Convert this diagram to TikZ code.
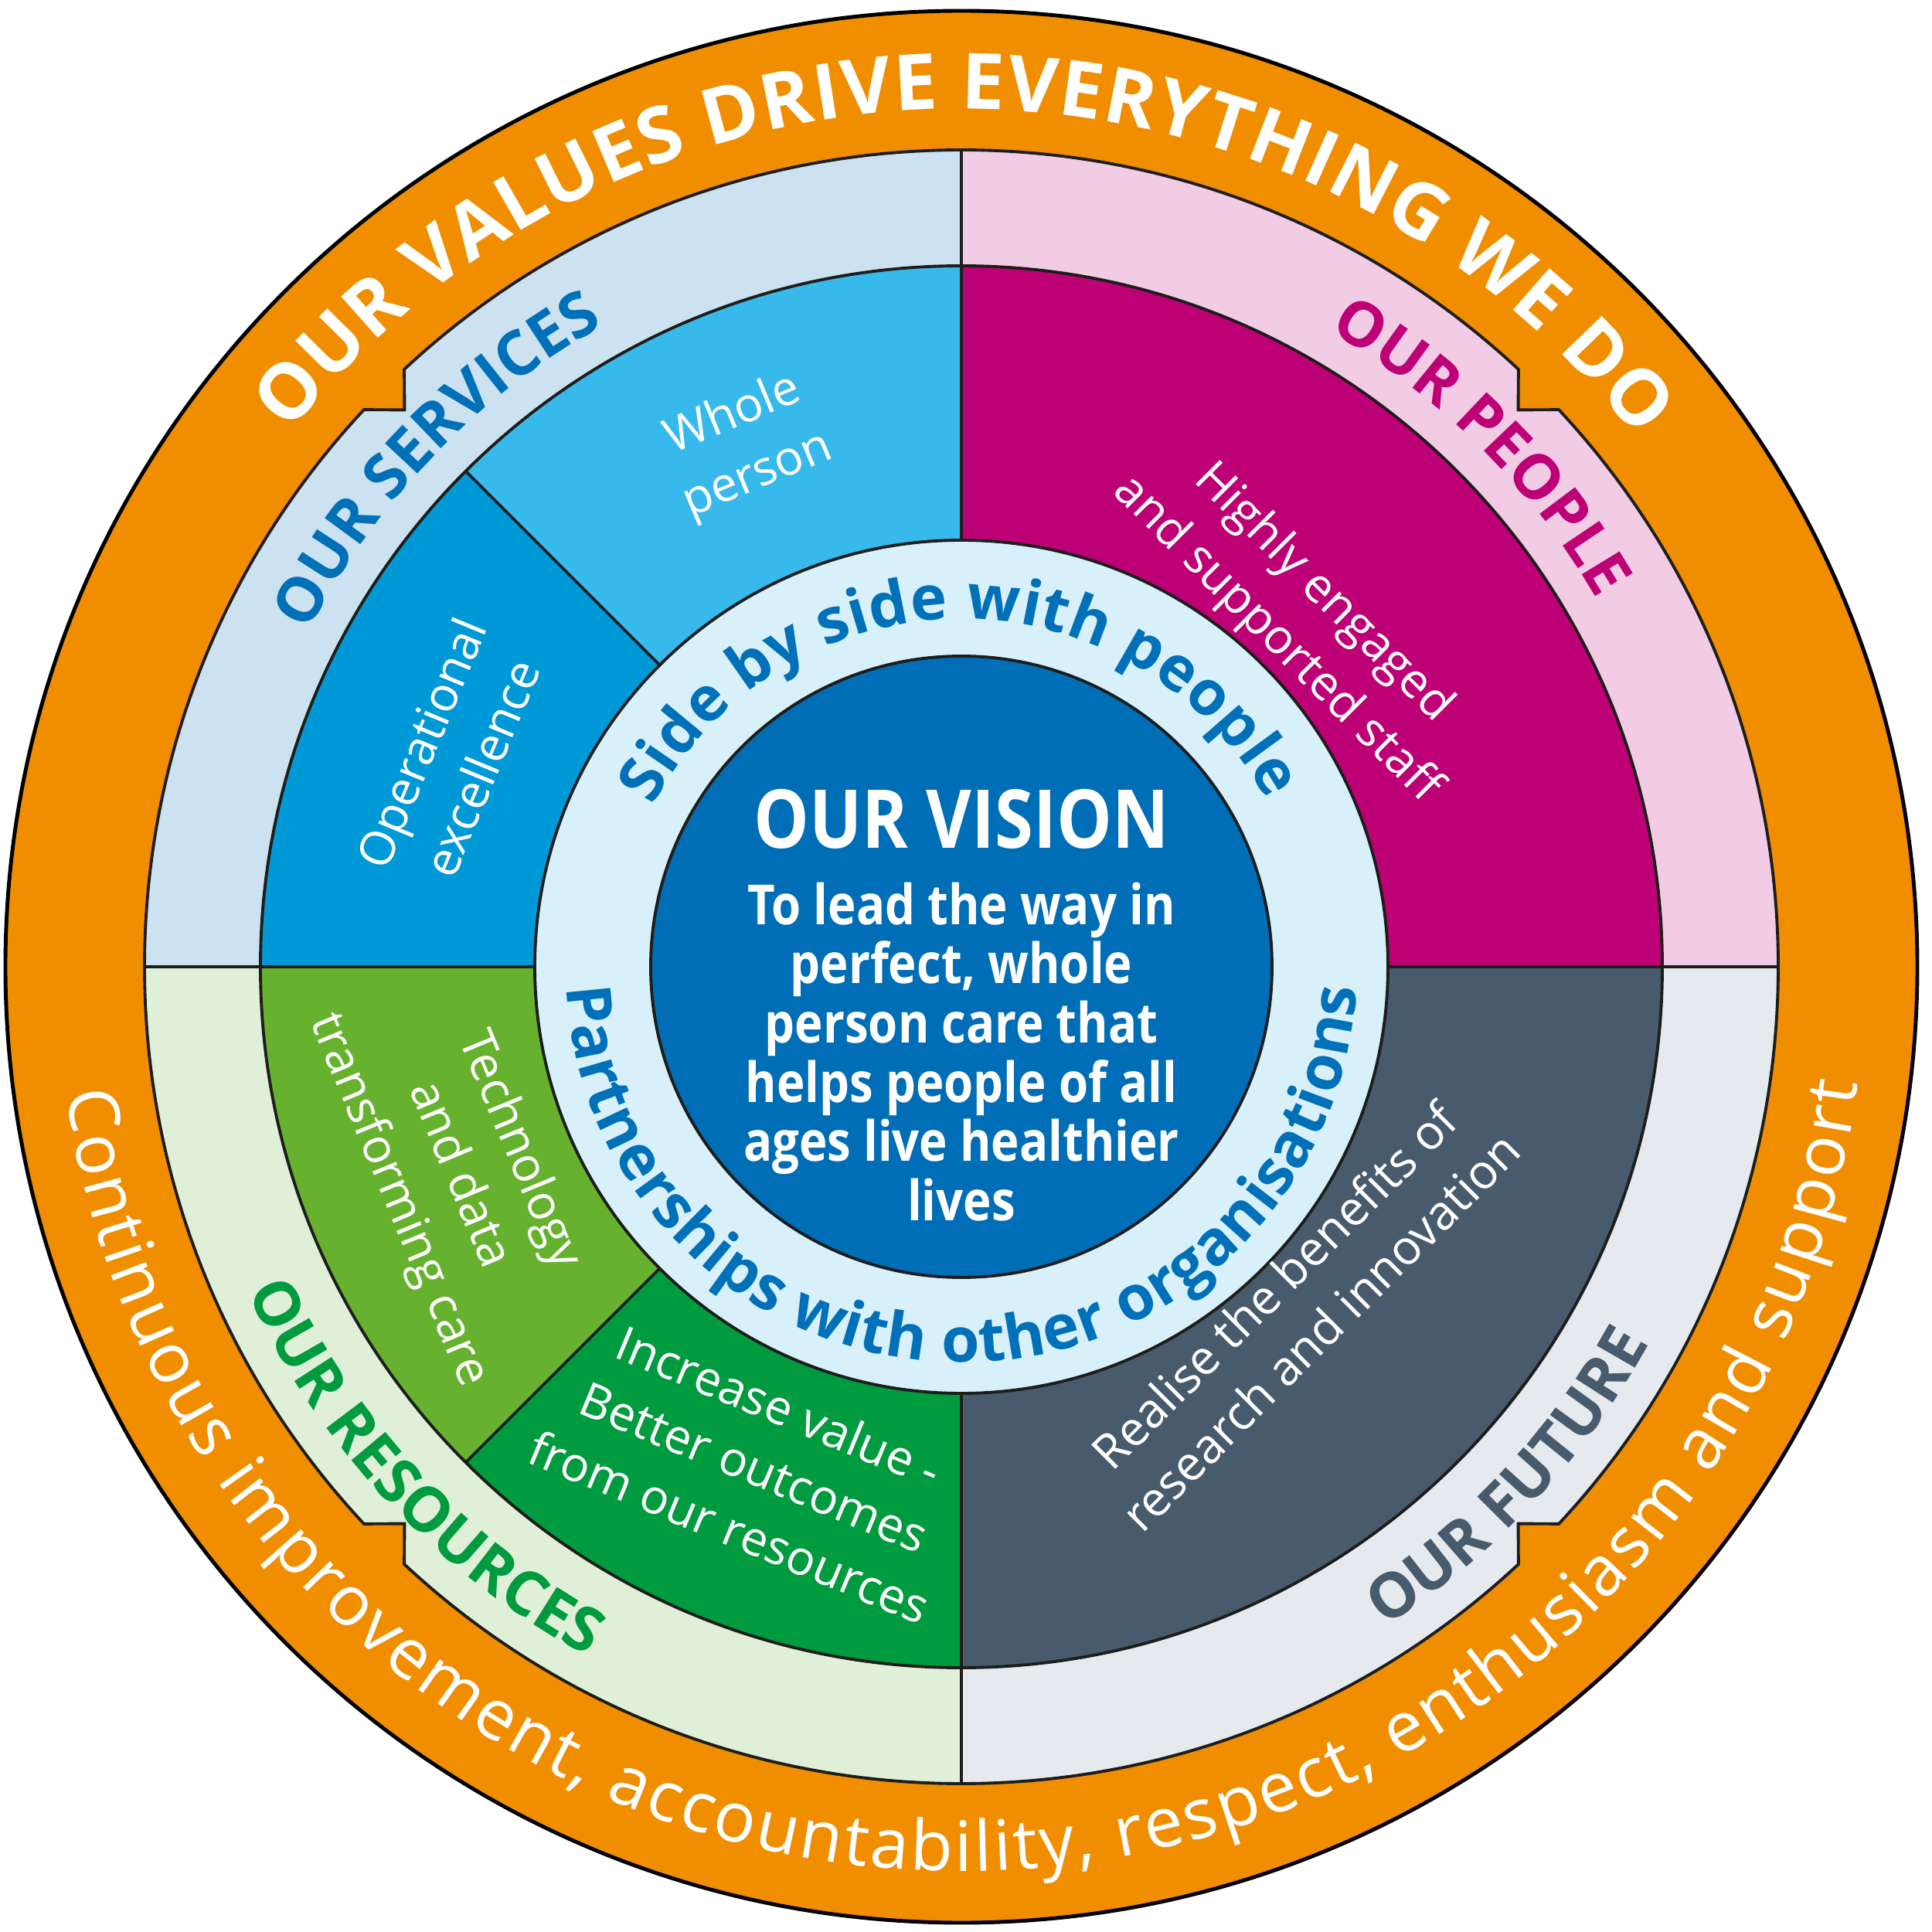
\documentclass[tikz,border=0pt]{standalone}
\usepackage{fontspec}
\setmainfont{Open Sans}
\newfontfamily\condsans[FakeStretch=0.86]{Open Sans}
\usetikzlibrary{decorations.text}
\definecolor{valorange}{RGB}{241,142,0}
\definecolor{servband}{RGB}{204,226,240}
\definecolor{peopband}{RGB}{242,204,228}
\definecolor{resband}{RGB}{224,240,216}
\definecolor{futband}{RGB}{230,234,238}
\definecolor{wholeblue}{RGB}{55,185,236}
\definecolor{opblue}{RGB}{0,153,215}
\definecolor{peopmag}{RGB}{190,0,118}
\definecolor{techgreen}{RGB}{102,178,46}
\definecolor{resgreen}{RGB}{0,155,62}
\definecolor{futslate}{RGB}{72,91,109}
\definecolor{ringcyan}{RGB}{215,240,250}
\definecolor{visionblue}{RGB}{0,110,182}
\definecolor{textblue}{RGB}{0,112,184}
\definecolor{edgeblack}{RGB}{29,29,27}
\newcommand\valuesfont{\bfseries\fontsize{28.5}{29}\selectfont}
\newcommand\behavfont{\fontsize{25.6}{26}\selectfont}
\newcommand\pillarfont{\bfseries\fontsize{22.8}{23}\selectfont}
\newcommand\ringfont{\bfseries\fontsize{22.8}{23}\selectfont}

\begin{document}
\begin{tikzpicture}[
  edgeline/.style={draw=edgeblack,line width=1.1pt},
  segtext/.style={text=white,align=center,font=\fontsize{17.6}{24}\selectfont},
  bandedge/.style={insert path={(45:10.19) -- (47:10.57) arc[start angle=47,end angle=133,radius=10.57]
    -- (135:10.19) -- (137:10.57) arc[start angle=137,end angle=223,radius=10.57]
    -- (225:10.19) -- (227:10.57) arc[start angle=227,end angle=313,radius=10.57]
    -- (315:10.19) -- (317:10.57) arc[start angle=317,end angle=403,radius=10.57] -- cycle}},
  ontop/.style={decorate,decoration={text along path,text align=center,text color=#1}}]
\useasboundingbox (-12.44,-12.49) rectangle (12.56,12.51);
\fill[white] (-12.44,-12.49) rectangle (12.56,12.51);
\draw[fill=valorange,draw=black,line width=1.4pt] (0,0) circle[radius=12.37];
\begin{scope}
  \clip[bandedge];
  \fill[servband] (0,0) rectangle (-11,11);
  \fill[peopband] (0,0) rectangle (11,11);
  \fill[resband] (0,0) rectangle (-11,-11);
  \fill[futband] (0,0) rectangle (11,-11);
\end{scope}
\draw[edgeline,bandedge];
\begin{scope}
  \clip (0,0) circle[radius=9.07];
  \fill[wholeblue] (0,0) -- (0,10) -- (-10,10) -- cycle;
  \fill[opblue] (0,0) -- (-10,10) -- (-10,0) -- cycle;
  \fill[peopmag] (0,0) rectangle (10,10);
  \fill[techgreen] (0,0) -- (-10,0) -- (-10,-10) -- cycle;
  \fill[resgreen] (0,0) -- (-10,-10) -- (0,-10) -- cycle;
  \fill[futslate] (0,0) rectangle (10,-10);
\end{scope}
\draw[edgeline] (0,0) circle[radius=9.07];
\foreach \a in {0,90,180,270}
  \draw[edgeline] (0,0) -- (\a:10.57);
\foreach \a in {135,225}
  \draw[edgeline] (0,0) -- (\a:9.07);
\draw[edgeline,fill=ringcyan] (0,0) circle[radius=5.52];
\draw[edgeline,fill=visionblue] (0,0) circle[radius=4.02];

\path[decorate,decoration={text along path,text align=fit to path,text color=white,
  text={|\valuesfont|OUR VALUES DRIVE EVERYTHING WE DO}}]
  (141.5:11.10) arc[start angle=141.5,end angle=38,radius=11.10];
\path[decorate,decoration={text along path,text align=fit to path,text color=white,
  text={|\behavfont|Continuous improvement, accountability, respect, enthusiasm and support}}]
  (188:11.70) arc[start angle=188,end angle=352.5,radius=11.70];

\path[ontop=textblue,decoration={text={|\pillarfont|OUR SERVICES}}]
  (171:9.5) arc[start angle=171,end angle=101,radius=9.5];
\path[ontop=peopmag,decoration={text={|\pillarfont|OUR PEOPLE}}]
  (80:9.5) arc[start angle=80,end angle=10,radius=9.5];
\path[ontop=resgreen,decoration={text={|\pillarfont|OUR RESOURCES}}]
  (188:10.15) arc[start angle=188,end angle=258,radius=10.15];
\path[ontop=futslate,decoration={text={|\pillarfont|OUR FUTURE}}]
  (282:10.15) arc[start angle=282,end angle=352,radius=10.15];

\path[decorate,decoration={text along path,text align=fit to path,text color=textblue,
  text={|\ringfont|Side by side with people}}]
  (152.5:4.50) arc[start angle=152.5,end angle=28.5,radius=4.50];
\path[decorate,decoration={text along path,text align=fit to path,text color=textblue,
  text={|\ringfont|Partnerships with other organisations}}]
  (183:5.12) arc[start angle=183,end angle=357,radius=5.12];

\node[segtext,rotate=22.5] (whole) at (112.5:7.3) {Whole\\person};
\node[segtext,rotate=67.5] (operational) at (157.5:7.15) {Operational\\excellence};
\node[segtext,rotate=-45] (engaged) at (46:6.3) {Highly engaged\\and supported staff};
\node[segtext,rotate=-67.5] (technology) at (202.5:7.05) {Technology\\and data\\transforming care};
\node[segtext,rotate=-22.5] (value) at (247.5:7.0) {Increase value -\\Better outcomes\\from our resources};
\node[segtext,rotate=45] (realise) at (314.5:6.2) {Realise the benefits of\\research and innovation};

\node[text=white,font=\condsans\bfseries\fontsize{29.9}{30}\selectfont] (vision) at (0,1.91) {OUR VISION};
\node[text=white,align=center,font=\condsans\bfseries\fontsize{20.4}{21.8}\selectfont] (aim) at (0,-1.10)
  {To lead the way in\\perfect, whole\\person care that\\helps people of all\\ages live healthier\\lives};
\end{tikzpicture}
\end{document}
